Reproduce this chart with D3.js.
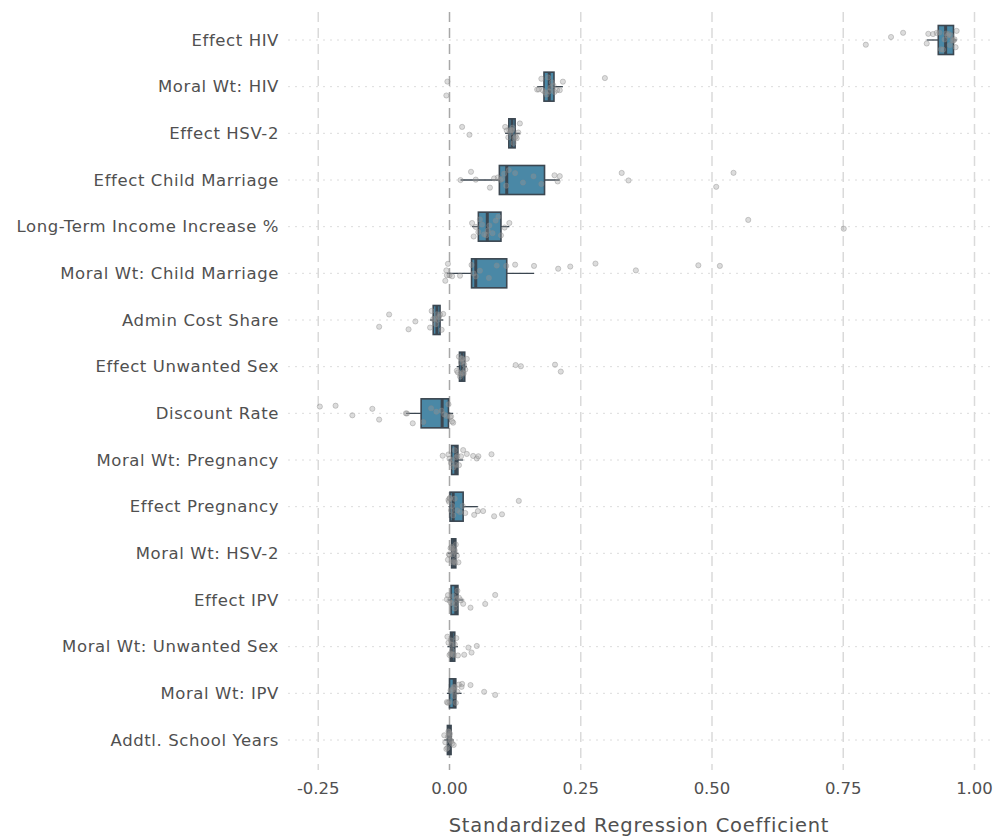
<!DOCTYPE html>
<html lang="en">
<head>
  <meta charset="utf-8">
  <title>Standardized Regression Coefficients</title>
  <script src="https://cdn.jsdelivr.net/npm/d3@7"></script>
  <style>
    body { margin: 0; background: #fff; }
    text { font-family: "DejaVu Sans", sans-serif; fill: #505050; }
  </style>
</head>
<body>
  <script>
    // categories, top to bottom
    const categories = [
      "Effect HIV", "Moral Wt: HIV", "Effect HSV-2", "Effect Child Marriage",
      "Long-Term Income Increase %", "Moral Wt: Child Marriage", "Admin Cost Share",
      "Effect Unwanted Sex", "Discount Rate", "Moral Wt: Pregnancy", "Effect Pregnancy",
      "Moral Wt: HSV-2", "Effect IPV", "Moral Wt: Unwanted Sex", "Moral Wt: IPV",
      "Addtl. School Years"
    ];
    // box statistics
    const q1 =      [0.931, 0.180, 0.113, 0.095, 0.055, 0.042, -0.031, 0.019, -0.054, 0.004, 0.001, 0.004, 0.003, 0.002, 0.000, -0.004];
    const median =  [0.945, 0.190, 0.119, 0.109, 0.072, 0.050, -0.024, 0.024, -0.014, 0.012, 0.007, 0.008, 0.012, 0.005, 0.009, 0.000];
    const q3 =      [0.960, 0.199, 0.125, 0.181, 0.098, 0.109, -0.018, 0.029, -0.002, 0.016, 0.026, 0.012, 0.016, 0.010, 0.012, 0.003];
    const whiskLo = [0.909, 0.167, 0.106, 0.021, 0.043, -0.005, -0.037, 0.014, -0.083, -0.002, -0.002, -0.003, -0.003, -0.004, -0.005, -0.010];
    const whiskHi = [0.966, 0.216, 0.134, 0.210, 0.114, 0.161, -0.012, 0.033, 0.007, 0.026, 0.054, 0.017, 0.026, 0.016, 0.023, 0.008];
    // individual estimates (jittered points)
    const points = [
      [0.793, 0.841, 0.864, 0.909, 0.912, 0.921, 0.928, 0.933, 0.936, 0.940, 0.943, 0.946, 0.949, 0.951, 0.953, 0.955, 0.958, 0.960, 0.962, 0.964, 0.966],
      [-0.006, -0.004, 0.167, 0.170, 0.175, 0.178, 0.182, 0.185, 0.188, 0.190, 0.192, 0.195, 0.198, 0.200, 0.205, 0.210, 0.216, 0.296],
      [0.024, 0.038, 0.106, 0.109, 0.112, 0.114, 0.116, 0.118, 0.119, 0.120, 0.122, 0.124, 0.126, 0.128, 0.131, 0.134],
      [0.021, 0.041, 0.050, 0.077, 0.085, 0.092, 0.097, 0.100, 0.104, 0.108, 0.113, 0.125, 0.140, 0.160, 0.175, 0.200, 0.206, 0.210, 0.328, 0.341, 0.508, 0.541],
      [0.043, 0.046, 0.050, 0.055, 0.058, 0.062, 0.066, 0.070, 0.073, 0.076, 0.082, 0.088, 0.093, 0.098, 0.105, 0.114, 0.569, 0.751],
      [-0.008, -0.006, -0.005, -0.003, 0.000, 0.005, 0.020, 0.042, 0.046, 0.050, 0.058, 0.075, 0.090, 0.108, 0.125, 0.161, 0.207, 0.230, 0.278, 0.355, 0.474, 0.515],
      [-0.134, -0.115, -0.078, -0.065, -0.037, -0.034, -0.031, -0.028, -0.026, -0.024, -0.022, -0.020, -0.018, -0.015, -0.012],
      [0.014, 0.016, 0.018, 0.020, 0.021, 0.022, 0.023, 0.024, 0.025, 0.026, 0.027, 0.028, 0.030, 0.033, 0.126, 0.136, 0.201, 0.212],
      [-0.247, -0.217, -0.185, -0.147, -0.134, -0.081, -0.083, -0.070, -0.050, -0.035, -0.025, -0.015, -0.010, -0.006, -0.002, 0.001, 0.003, 0.005, 0.007],
      [-0.013, -0.002, 0.000, 0.003, 0.005, 0.008, 0.010, 0.012, 0.013, 0.015, 0.018, 0.022, 0.026, 0.033, 0.045, 0.052, 0.055, 0.080],
      [-0.002, -0.001, 0.000, 0.001, 0.003, 0.005, 0.007, 0.010, 0.015, 0.020, 0.025, 0.030, 0.047, 0.054, 0.064, 0.085, 0.100, 0.132],
      [-0.003, -0.001, 0.000, 0.002, 0.004, 0.005, 0.006, 0.007, 0.008, 0.009, 0.010, 0.011, 0.012, 0.014, 0.017],
      [-0.005, -0.003, 0.000, 0.003, 0.005, 0.008, 0.010, 0.012, 0.013, 0.015, 0.018, 0.022, 0.026, 0.040, 0.068, 0.087],
      [-0.004, -0.002, 0.000, 0.002, 0.003, 0.004, 0.005, 0.006, 0.008, 0.010, 0.013, 0.016, 0.028, 0.036, 0.042, 0.052],
      [-0.005, -0.003, 0.000, 0.002, 0.004, 0.006, 0.008, 0.009, 0.010, 0.012, 0.015, 0.018, 0.023, 0.024, 0.040, 0.066, 0.087],
      [-0.010, -0.008, -0.006, -0.004, -0.003, -0.002, -0.001, 0.000, 0.001, 0.002, 0.003, 0.005, 0.008]
    ];
    const xTicks = [-0.25, 0, 0.25, 0.5, 0.75, 1.0];
    const xTitle = "Standardized Regression Coefficient";

    const width = 994, height = 838;
    const svg = d3.select("body").append("svg")
      .attr("width", width)
      .attr("height", height);

    // scales
    const x = d3.scaleLinear().domain([0, 1]).range([449.5, 974.5]);
    const y = d3.scalePoint().domain(categories).range([40, 740]);
    const plotTop = 12, plotBottom = 770, plotLeft = 288, plotRight = 994;
    const boxH = 29;

    // horizontal dotted grid
    svg.append("g").selectAll("line").data(categories).join("line")
      .attr("x1", plotLeft).attr("x2", plotRight)
      .attr("y1", d => y(d)).attr("y2", d => y(d))
      .attr("stroke", "#dcdcdc").attr("stroke-width", 1)
      .attr("stroke-dasharray", "2,5");

    // vertical dashed grid
    svg.append("g").selectAll("line").data(xTicks).join("line")
      .attr("x1", d => x(d)).attr("x2", d => x(d))
      .attr("y1", plotTop).attr("y2", plotBottom)
      .attr("stroke", d => d === 0 ? "#a8a8a8" : "#dadada")
      .attr("stroke-width", 1.5)
      .attr("stroke-dasharray", "10,6");

    // rows
    const rows = categories.map((c, i) => ({
      cat: c, q1: q1[i], med: median[i], q3: q3[i], lo: whiskLo[i], hi: whiskHi[i], pts: points[i]
    }));

    const g = svg.append("g");
    // whiskers
    g.selectAll(".whisk").data(rows).join("line")
      .attr("x1", d => x(d.lo)).attr("x2", d => x(d.hi))
      .attr("y1", d => y(d.cat)).attr("y2", d => y(d.cat))
      .attr("stroke", "#3b4650").attr("stroke-width", 1.3);
    // boxes
    g.selectAll(".box").data(rows).join("rect")
      .attr("x", d => x(d.q1))
      .attr("y", d => y(d.cat) - boxH / 2)
      .attr("width", d => Math.max(2, x(d.q3) - x(d.q1)))
      .attr("height", boxH)
      .attr("fill", "#4a88a6")
      .attr("stroke", "#3b4650").attr("stroke-width", 1.6);
    // medians
    g.selectAll(".med").data(rows).join("line")
      .attr("x1", d => x(d.med)).attr("x2", d => x(d.med))
      .attr("y1", d => y(d.cat) - boxH / 2).attr("y2", d => y(d.cat) + boxH / 2)
      .attr("stroke", "#3b4650").attr("stroke-width", 3);

    // jittered points (deterministic jitter)
    const rnd = d3.randomUniform.source(d3.randomLcg(0.42))(-10, 10);
    const pts = rows.flatMap(r => r.pts.map(v => ({ cat: r.cat, v: v, j: rnd() })));
    svg.append("g").selectAll("circle").data(pts).join("circle")
      .attr("cx", d => x(d.v))
      .attr("cy", d => y(d.cat) + d.j)
      .attr("r", 2.6)
      .attr("fill", "#9a9a9a").attr("fill-opacity", 0.35)
      .attr("stroke", "#8a8a8a").attr("stroke-opacity", 0.4);

    // category labels
    svg.append("g").selectAll("text").data(categories).join("text")
      .attr("x", 279).attr("y", d => y(d))
      .attr("text-anchor", "end")
      .attr("dominant-baseline", "central")
      .style("font-size", "16.5px")
      .style("letter-spacing", "0.6px")
      .text(d => d);

    // x tick labels (plain hyphen minus as in the reference)
    svg.append("g").selectAll("text").data(xTicks).join("text")
      .attr("x", d => x(d)).attr("y", 788)
      .attr("text-anchor", "middle")
      .attr("dominant-baseline", "central")
      .style("font-size", "16.5px")
      .text(d => d3.format(".2f")(d).replace("\u2212", "-"));

    // axis title
    svg.append("text")
      .attr("x", 639).attr("y", 825)
      .attr("text-anchor", "middle")
      .attr("dominant-baseline", "central")
      .style("font-size", "19.5px")
      .style("letter-spacing", "0.8px")
      .text(xTitle);
  </script>
</body>
</html>
